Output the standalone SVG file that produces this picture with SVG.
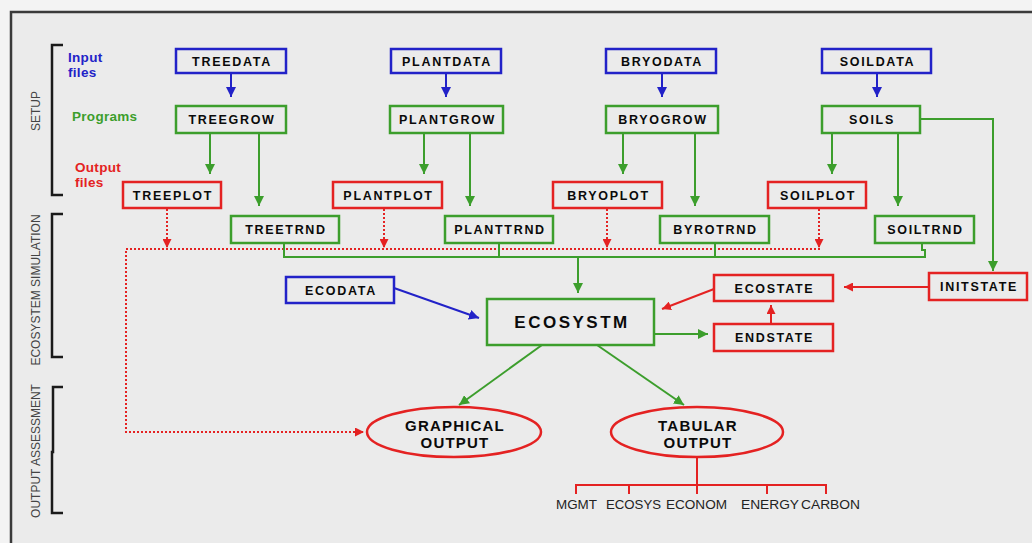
<svg xmlns="http://www.w3.org/2000/svg" width="1032" height="543" viewBox="0 0 1032 543">
  <style>
    .box { fill: none; stroke-width: 2.5; }
    .in { stroke: #2222c8; }
    .prog { stroke: #3c9e2c; }
    .out { stroke: #e42222; }
    .lbl { font-family: "Liberation Sans", Arial, sans-serif; font-weight: bold; font-size: 12.5px; letter-spacing: 1.7px; fill: #0a0a0a; text-anchor: middle; }
    .big { font-size: 17px; letter-spacing: 2.5px; }
    .ell { font-size: 15px; letter-spacing: 1.2px; }
    .side { font-family: "Liberation Sans", Arial, sans-serif; font-size: 12px; fill: #444; text-anchor: middle; }
    .key { font-family: "Liberation Sans", Arial, sans-serif; font-weight: bold; font-size: 13.5px; letter-spacing: 0.3px; }
    .tab { font-family: "Liberation Sans", Arial, sans-serif; font-size: 12px; fill: #222; }
    .g { stroke: #3c9e2c; stroke-width: 2; fill: none; }
    .b { stroke: #2222c8; stroke-width: 2; fill: none; }
    .r { stroke: #e42222; stroke-width: 2; fill: none; }
    .rd { stroke: #e42222; stroke-width: 2; fill: none; stroke-dasharray: 2 2; }
    .br { stroke: #1a1a1a; stroke-width: 2.5; fill: none; }
  </style>
  <defs>
    <marker id="ag" viewBox="0 0 10 10" refX="10" refY="5" markerWidth="10" markerHeight="10" markerUnits="userSpaceOnUse" orient="auto">
      <path d="M0,0 L10,5 L0,10 z" fill="#3c9e2c"/>
    </marker>
    <marker id="ab" viewBox="0 0 10 10" refX="10" refY="5" markerWidth="10" markerHeight="10" markerUnits="userSpaceOnUse" orient="auto">
      <path d="M0,0 L10,5 L0,10 z" fill="#2222c8"/>
    </marker>
    <marker id="ar" viewBox="0 0 10 10" refX="10" refY="5" markerWidth="9" markerHeight="9" markerUnits="userSpaceOnUse" orient="auto">
      <path d="M0,0 L10,5 L0,10 z" fill="#e42222"/>
    </marker>
  </defs>

  <!-- page and frame -->
  <rect x="0" y="0" width="1032" height="543" fill="#f3f3f3"/>
  <rect x="11" y="12" width="1021" height="531" fill="#ebebeb"/>
  <path d="M11,545 V12 H1032" fill="none" stroke="#3a3a3a" stroke-width="2.5"/>

  <!-- section brackets and titles -->
  <g id="legend">
    <path class="br" d="M63,45 H52 V195 H63"/>
    <path class="br" d="M63,214 H52 V357 H63"/>
    <path class="br" d="M63,387 H53 V452 H52 V513 H63"/>
    <text class="side" transform="translate(40,111) rotate(-90)">SETUP</text>
    <text class="side" transform="translate(40,290) rotate(-90)">ECOSYSTEM SIMULATION</text>
    <text class="side" transform="translate(40,451) rotate(-90)">OUTPUT ASSESSMENT</text>
    <text class="key" fill="#2222c8" x="68" y="62">Input</text>
    <text class="key" fill="#2222c8" x="68" y="77">files</text>
    <text class="key" fill="#3c9e2c" x="72" y="121">Programs</text>
    <text class="key" fill="#e42222" x="75" y="172">Output</text>
    <text class="key" fill="#e42222" x="75" y="187">files</text>
  </g>

  <!-- connectors -->
  <g id="connectors">
    <!-- input files to programs -->
    <path class="b" d="M231,73 V97" marker-end="url(#ab)"/>
    <path class="b" d="M446,73 V97" marker-end="url(#ab)"/>
    <path class="b" d="M662,73 V97" marker-end="url(#ab)"/>
    <path class="b" d="M877,73 V97" marker-end="url(#ab)"/>
    <!-- programs to plot and trend files -->
    <path class="g" d="M210,133 V174" marker-end="url(#ag)"/>
    <path class="g" d="M259,133 V206" marker-end="url(#ag)"/>
    <path class="g" d="M424,133 V174" marker-end="url(#ag)"/>
    <path class="g" d="M470,133 V206" marker-end="url(#ag)"/>
    <path class="g" d="M623,133 V174" marker-end="url(#ag)"/>
    <path class="g" d="M695,133 V206" marker-end="url(#ag)"/>
    <path class="g" d="M832,133 V174" marker-end="url(#ag)"/>
    <path class="g" d="M898,133 V206" marker-end="url(#ag)"/>
    <path class="g" d="M920,119 H993 V271" marker-end="url(#ag)"/>
    <!-- plot files to graphical output -->
    <path class="rd" d="M167,209 V248" marker-end="url(#ar)"/>
    <path class="rd" d="M384,209 V248" marker-end="url(#ar)"/>
    <path class="rd" d="M607,209 V248" marker-end="url(#ar)"/>
    <path class="rd" d="M819,209 V248" marker-end="url(#ar)"/>
    <path class="rd" d="M820,249 H126 V432 H364" marker-end="url(#ar)"/>
    <!-- trend files bus to ECOSYSTM -->
    <path class="g" d="M284,243 V257 H925 V250 H922 V243"/>
    <path class="g" d="M499,243 V257"/>
    <path class="g" d="M715,243 V257"/>
    <path class="g" d="M578,257 V293" marker-end="url(#ag)"/>
    <path class="b" d="M394,288 L479,318" marker-end="url(#ab)"/>
    <!-- state files -->
    <path class="g" d="M654,334 H708" marker-end="url(#ag)"/>
    <path class="r" d="M771,324 V305" marker-end="url(#ar)"/>
    <path class="r" d="M929,287 H844" marker-end="url(#ar)"/>
    <path class="r" d="M714,289 L662,309" marker-end="url(#ar)"/>
    <!-- outputs -->
    <path class="g" d="M542,345 L459,405" marker-end="url(#ag)"/>
    <path class="g" d="M597,345 L684,405" marker-end="url(#ag)"/>
    <path class="r" d="M697,457 V485 M576,494 V485 H826 V494 M629,485 V494 M697,485 V494 M767,485 V494"/>
  </g>

  <!-- input files -->
  <g id="treedata"><rect class="box in" x="176" y="49" width="110" height="24"/><text class="lbl" x="232" y="65.5">TREEDATA</text></g>
  <g id="plantdata"><rect class="box in" x="391" y="49" width="110" height="24"/><text class="lbl" x="447" y="65.5">PLANTDATA</text></g>
  <g id="bryodata"><rect class="box in" x="606" y="49" width="110" height="24"/><text class="lbl" x="662" y="65.5">BRYODATA</text></g>
  <g id="soildata"><rect class="box in" x="822" y="49" width="109" height="24"/><text class="lbl" x="877.5" y="65.5">SOILDATA</text></g>

  <!-- programs -->
  <g id="treegrow"><rect class="box prog" x="176" y="106" width="110" height="27"/><text class="lbl" x="232" y="124">TREEGROW</text></g>
  <g id="plantgrow"><rect class="box prog" x="390" y="106" width="113" height="27"/><text class="lbl" x="447.5" y="124">PLANTGROW</text></g>
  <g id="bryogrow"><rect class="box prog" x="606" y="106" width="112" height="27"/><text class="lbl" x="663" y="124">BRYOGROW</text></g>
  <g id="soils"><rect class="box prog" x="822" y="106" width="98" height="27"/><text class="lbl" x="872" y="124">SOILS</text></g>

  <!-- plot output files -->
  <g id="treeplot"><rect class="box out" x="123" y="182" width="98" height="26"/><text class="lbl" x="173" y="199.5">TREEPLOT</text></g>
  <g id="plantplot"><rect class="box out" x="333" y="182" width="109" height="26"/><text class="lbl" x="388.5" y="199.5">PLANTPLOT</text></g>
  <g id="bryoplot"><rect class="box out" x="553" y="182" width="109" height="26"/><text class="lbl" x="608.5" y="199.5">BRYOPLOT</text></g>
  <g id="soilplot"><rect class="box out" x="768" y="182" width="98" height="26"/><text class="lbl" x="818" y="199.5">SOILPLOT</text></g>

  <!-- trend files -->
  <g id="treetrnd"><rect class="box prog" x="231" y="216" width="108" height="27"/><text class="lbl" x="286" y="234">TREETRND</text></g>
  <g id="planttrnd"><rect class="box prog" x="445" y="216" width="108" height="27"/><text class="lbl" x="500" y="234">PLANTTRND</text></g>
  <g id="byrotrnd"><rect class="box prog" x="660" y="216" width="109" height="27"/><text class="lbl" x="715.5" y="234">BYROTRND</text></g>
  <g id="soiltrnd"><rect class="box prog" x="875" y="216" width="99" height="27"/><text class="lbl" x="925.5" y="234">SOILTRND</text></g>

  <!-- simulation -->
  <g id="ecodata"><rect class="box in" x="286" y="277" width="108" height="26"/><text class="lbl" x="341" y="294.5">ECODATA</text></g>
  <g id="ecosystm"><rect class="box prog" x="487" y="299" width="167" height="46"/><text class="lbl big" x="572" y="328">ECOSYSTM</text></g>
  <g id="ecostate"><rect class="box out" x="714" y="275" width="119" height="26"/><text class="lbl" x="774.5" y="292.5">ECOSTATE</text></g>
  <g id="endstate"><rect class="box out" x="714" y="324" width="119" height="27"/><text class="lbl" x="774.5" y="342">ENDSTATE</text></g>
  <g id="initstate"><rect class="box out" x="929" y="273" width="98" height="27"/><text class="lbl" x="979" y="291">INITSTATE</text></g>

  <!-- assessment -->
  <g id="graphical-output">
    <ellipse class="box out" cx="454" cy="432" rx="87" ry="25"/>
    <text class="lbl ell" x="455" y="431">GRAPHICAL</text>
    <text class="lbl ell" x="455" y="448">OUTPUT</text>
  </g>
  <g id="tabular-output">
    <ellipse class="box out" cx="697" cy="432" rx="86" ry="25"/>
    <text class="lbl ell" x="698" y="431">TABULAR</text>
    <text class="lbl ell" x="698" y="448">OUTPUT</text>
  </g>
  <g id="tables">
    <text class="tab" x="556" y="509" textLength="41" lengthAdjust="spacingAndGlyphs">MGMT</text>
    <text class="tab" x="606" y="509" textLength="55" lengthAdjust="spacingAndGlyphs">ECOSYS</text>
    <text class="tab" x="666" y="509" textLength="61" lengthAdjust="spacingAndGlyphs">ECONOM</text>
    <text class="tab" x="741" y="509" textLength="58" lengthAdjust="spacingAndGlyphs">ENERGY</text>
    <text class="tab" x="801" y="509" textLength="59" lengthAdjust="spacingAndGlyphs">CARBON</text>
  </g>
</svg>
